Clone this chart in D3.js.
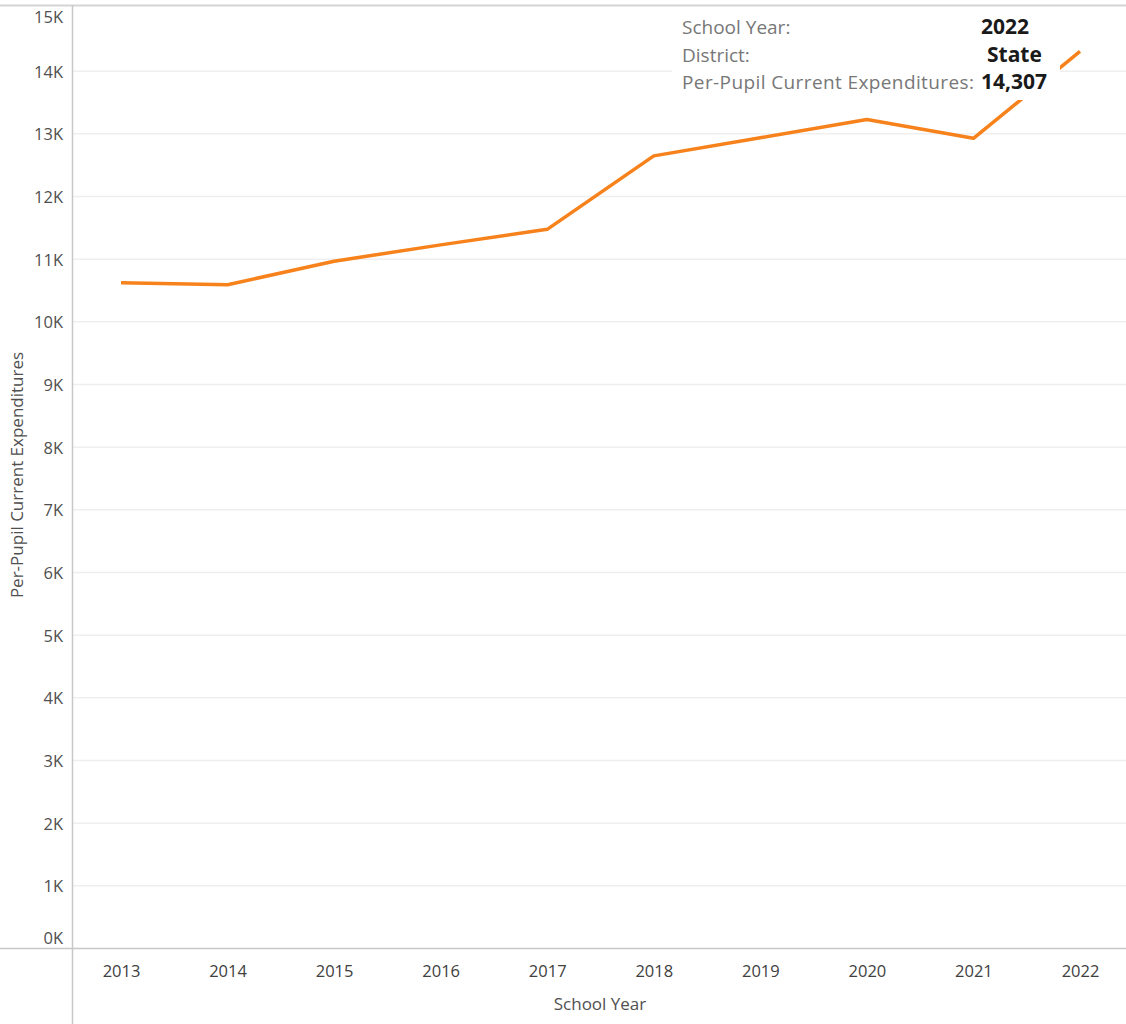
<!DOCTYPE html>
<html>
	<head>
		<meta charset="utf-8" />
		<title>Per-Pupil Current Expenditures</title>
		<style>
			body { margin: 0; background: #fff; }
			#chart svg { display: block; }
			#chart text { font-family: "Open Sans", "Noto Sans", sans-serif; }
		</style>
	</head>
	<body>
		<div id="chart"></div>
		<script src="https://cdnjs.cloudflare.com/ajax/libs/d3/7.8.5/d3.min.js"></script>
		<script>
			// values
			var years = ["2013", "2014", "2015", "2016", "2017", "2018", "2019", "2020", "2021", "2022"];
			var expenditures = [10616, 10584, 10960, 11220, 11468, 12640, 12930, 13220, 12920, 14307];
			var yTicks = [0, 1000, 2000, 3000, 4000, 5000, 6000, 7000, 8000, 9000, 10000, 11000, 12000, 13000, 14000, 15000];
			var tipLabels = ["School Year:", "District:", "Per-Pupil Current Expenditures:"];
			var tipValues = ["2022", "State", "14,307"];

			!(function(){
				var width = 1126, height = 1024;
				var axisX = 72, axisY = 948, topY = 8;

				var svg = d3.select("#chart").append("svg")
					.attr("width", width)
					.attr("height", height);

				var x = d3.scalePoint()
					.domain(years)
					.range([121, 1080]);

				var y = d3.scaleLinear()
					.domain([0, 15000])
					.range([axisY, topY]);

				// gridlines
				svg.append("g")
					.selectAll("line")
					.data(yTicks.filter(function(d){ return d > 0 && d < 15000; }))
					.enter().append("line")
					.attr("x1", axisX).attr("x2", width)
					.attr("y1", function(d){ return y(d) + 0.5; })
					.attr("y2", function(d){ return y(d) + 0.5; })
					.attr("stroke", "#efefef")
					.attr("stroke-width", 1.5);

				// frame lines
				svg.append("line")
					.attr("x1", 0).attr("x2", width).attr("y1", 5.5).attr("y2", 5.5)
					.attr("stroke", "#d4d4d4").attr("stroke-width", 2);
				svg.append("line")
					.attr("x1", 0).attr("x2", width).attr("y1", axisY + 0.5).attr("y2", axisY + 0.5)
					.attr("stroke", "#c8c8c8").attr("stroke-width", 1.5);
				svg.append("line")
					.attr("x1", axisX + 0.5).attr("x2", axisX + 0.5).attr("y1", 5).attr("y2", height)
					.attr("stroke", "#c8c8c8").attr("stroke-width", 1.5);

				// y tick labels (Power BI nudges the outer ones inward)
				var yAxis = svg.append("g")
					.attr("transform", "translate(" + (axisX - 9) + ",0)")
					.call(d3.axisLeft(y).tickValues(yTicks).tickSize(0).tickPadding(0)
						.tickFormat(function(d){ return (d / 1000) + "K"; }));
				yAxis.select(".domain").remove();
				yAxis.selectAll("text")
					.attr("font-size", 16.5)
					.attr("fill", "#505050")
					.attr("dy", function(d){
						if (d === 15000) return "0.85em";
						if (d === 0) return "-0.3em";
						return "0.4em";
					});

				// x tick labels
				var xAxis = svg.append("g")
					.attr("transform", "translate(0," + axisY + ")")
					.call(d3.axisBottom(x).tickSize(0).tickPadding(29));
				xAxis.select(".domain").remove();
				xAxis.selectAll("text")
					.attr("font-size", 16.5)
					.attr("fill", "#404040")
					.attr("dy", "0");

				// axis titles
				svg.append("text")
					.attr("x", 600).attr("y", 1010)
					.attr("text-anchor", "middle")
					.attr("font-size", 17)
					.attr("fill", "#505050")
					.text("School Year");
				svg.append("text")
					.attr("transform", "translate(23,475) rotate(-90)")
					.attr("text-anchor", "middle")
					.attr("font-size", 17)
					.attr("fill", "#505050")
					.text("Per-Pupil Current Expenditures");

				// the series
				var line = d3.line()
					.x(function(d, i){ return x(years[i]); })
					.y(function(d){ return y(d); });
				svg.append("path")
					.datum(expenditures)
					.attr("d", line)
					.attr("fill", "none")
					.attr("stroke", "#f7821b")
					.attr("stroke-width", 3.5)
					.attr("stroke-linejoin", "round");

				// tooltip box
				var tip = svg.append("g");
				tip.append("rect")
					.attr("x", 672).attr("y", 8)
					.attr("width", 388).attr("height", 92)
					.attr("fill", "#fff");
				tip.selectAll("text.lab")
					.data(tipLabels)
					.enter().append("text")
					.attr("class", "lab")
					.attr("x", 682)
					.attr("y", function(d, i){ return 34 + i * 27.5; })
					.attr("font-size", 19)
					.attr("fill", "#777")
					.attr("textLength", function(d, i){ return i === 2 ? 292 : null; })
					.text(function(d){ return d; });
				var valX = [981, 987, 981];
				tip.selectAll("text.val")
					.data(tipValues)
					.enter().append("text")
					.attr("class", "val")
					.attr("x", function(d, i){ return valX[i]; })
					.attr("y", function(d, i){ return 34 + i * 27.5; })
					.attr("font-size", 21)
					.attr("font-weight", "bold")
					.attr("fill", "#1a1a1a")
					.text(function(d){ return d; });
			}());
		</script>
	</body>
</html>
